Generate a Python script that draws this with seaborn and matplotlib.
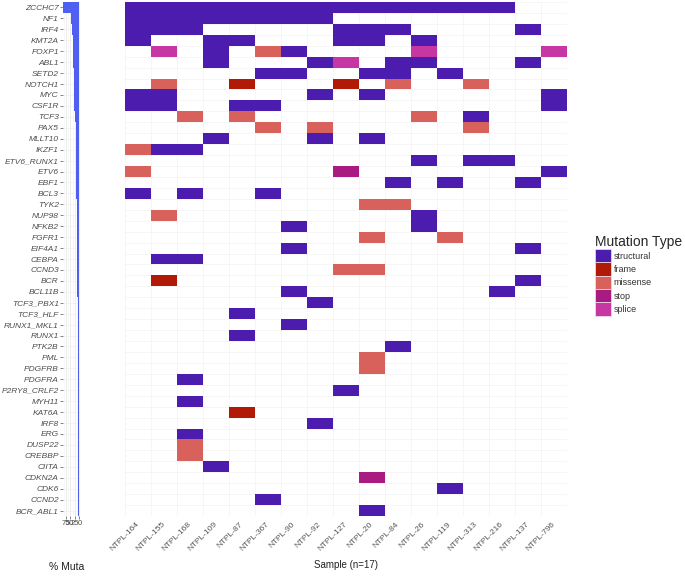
import numpy as np
import pandas as pd
import matplotlib
matplotlib.use("Agg")
import matplotlib.pyplot as plt
from matplotlib.colors import ListedColormap
from matplotlib.patches import Patch
import seaborn as sns

samples = ["NTPL-164", "NTPL-155", "NTPL-168", "NTPL-109", "NTPL-87", "NTPL-367",
           "NTPL-90", "NTPL-92", "NTPL-127", "NTPL-20", "NTPL-84", "NTPL-26",
           "NTPL-119", "NTPL-313", "NTPL-216", "NTPL-137", "NTPL-796"]

genes = ["ZCCHC7", "NF1", "IRF4", "KMT2A", "FOXP1", "ABL1", "SETD2", "NOTCH1",
         "MYC", "CSF1R", "TCF3", "PAX5", "MLLT10", "IKZF1", "ETV6_RUNX1", "ETV6",
         "EBF1", "BCL3", "TYK2", "NUP98", "NFKB2", "FGFR1", "EIF4A1", "CEBPA",
         "CCND3", "BCR", "BCL11B", "TCF3_PBX1", "TCF3_HLF", "RUNX1_MKL1", "RUNX1",
         "PTK2B", "PML", "PDGFRB", "PDGFRA", "P2RY8_CRLF2", "MYH11", "KAT6A",
         "IRF8", "ERG", "DUSP22", "CREBBP", "CIITA", "CDKN2A", "CDK6", "CCND2",
         "BCR_ABL1"]

mut_types = ["structural", "frame", "missense", "stop", "splice"]
mut_colors = ["#4b1cae", "#b01a06", "#d8615b", "#a91b80", "#c737a4"]

# sample numbers (NTPL-xxx) carrying each call
structural = {
    "ZCCHC7": [164, 155, 168, 109, 87, 367, 90, 92, 127, 20, 84, 26, 119, 313, 216],
    "NF1": [164, 155, 168, 109, 87, 367, 90, 92],
    "IRF4": [164, 155, 168, 127, 20, 84, 137],
    "KMT2A": [164, 109, 87, 127, 20, 26],
    "FOXP1": [109, 90],
    "ABL1": [109, 92, 84, 26, 137],
    "SETD2": [367, 90, 20, 84, 119],
    "MYC": [164, 155, 92, 20, 796],
    "CSF1R": [164, 155, 87, 367, 796],
    "TCF3": [313],
    "MLLT10": [109, 92, 20],
    "IKZF1": [155, 168],
    "ETV6_RUNX1": [26, 313, 216],
    "ETV6": [796],
    "EBF1": [84, 119, 137],
    "BCL3": [164, 168, 367],
    "NUP98": [26],
    "NFKB2": [90, 26],
    "EIF4A1": [90, 137],
    "CEBPA": [155, 168],
    "BCR": [137],
    "BCL11B": [90, 216],
    "TCF3_PBX1": [92],
    "TCF3_HLF": [87],
    "RUNX1_MKL1": [90],
    "RUNX1": [87],
    "PTK2B": [84],
    "PDGFRA": [168],
    "P2RY8_CRLF2": [127],
    "MYH11": [168],
    "IRF8": [92],
    "ERG": [168],
    "CIITA": [109],
    "CDK6": [119],
    "CCND2": [367],
    "BCR_ABL1": [20],
}
frame = {"NOTCH1": [87, 127], "BCR": [155], "KAT6A": [87]}
missense = {
    "FOXP1": [367], "NOTCH1": [155, 84, 313], "TCF3": [168, 87, 26],
    "PAX5": [367, 92, 313], "IKZF1": [164], "ETV6": [164], "TYK2": [20, 84],
    "NUP98": [155], "FGFR1": [20, 119], "CCND3": [127, 20], "PML": [20],
    "PDGFRB": [20], "DUSP22": [168], "CREBBP": [168],
}
stop = {"ETV6": [127], "CDKN2A": [20]}
splice = {"FOXP1": [155, 26, 796], "ABL1": [127]}

# ── long table -> matrix ──
rows = []
for t, calls in zip(mut_types, [structural, frame, missense, stop, splice]):
    for g, ids in calls.items():
        for s in ids:
            rows.append((g, f"NTPL-{s}", t))
df = pd.DataFrame(rows, columns=["gene", "sample", "type"])
df["code"] = df["type"].map({t: i for i, t in enumerate(mut_types)})

mat = (df.pivot(index="gene", columns="sample", values="code")
         .reindex(index=genes, columns=samples))

pct = (df.groupby("gene")["sample"].nunique().reindex(genes)
       / len(samples) * 100)
bars = pd.DataFrame({"gene": genes, "pct": pct.values})

# ── plot ──
sns.set_style("white")
plt.rcParams["font.family"] = ["Liberation Sans", "DejaVu Sans"]

fig = plt.figure(figsize=(6.85, 5.77), dpi=100)
ax_bar = fig.add_axes([63 / 685, 1 - 516 / 577, 17 / 685, 514 / 577])
ax_hm = fig.add_axes([125 / 685, 1 - 516 / 577, 442 / 685, 514 / 577])

# percent mutated bars
for v in [12.5, 37.5, 62.5, 87.5]:
    ax_bar.axvline(v, color="#f2f2f2", lw=0.4, zorder=0)
for v in [0, 25, 50, 75]:
    ax_bar.axvline(v, color="#e6e6e6", lw=0.5, zorder=0)
for i in range(len(genes)):
    ax_bar.axhline(i, color="#ececec", lw=0.4, zorder=0)
sns.barplot(data=bars, x="pct", y="gene", orient="h", color="#4f5ff0",
            saturation=1, width=1, linewidth=0, ax=ax_bar, zorder=2)
ax_bar.set_xlim(91, -3)
ax_bar.set_ylim(len(genes) - 0.5, -0.5)
ax_bar.set_xticks([75, 50, 25, 0])
ax_bar.set_xticklabels(["75", "50", "25", "0"])
ax_bar.tick_params(axis="x", labelsize=5.5, labelcolor="#4d4d4d", length=2,
                   width=0.5, color="#555555", pad=1, bottom=True)
ax_bar.tick_params(axis="y", labelsize=6, labelcolor="#4d4d4d", length=2,
                   width=0.5, color="#555555", pad=1, left=True)
for lbl in ax_bar.get_yticklabels():
    lbl.set_style("italic")
ax_bar.set_xlabel("")
ax_bar.set_ylabel("")
for sp in ax_bar.spines.values():
    sp.set_visible(False)

# mutation tiles
for i in range(len(genes) + 1):
    ax_hm.axhline(i, color="#f3f3f3", lw=0.5, zorder=0)
for j in range(len(samples) + 1):
    ax_hm.axvline(j, color="#f3f3f3", lw=0.5, zorder=0)
sns.heatmap(mat, cmap=ListedColormap(mut_colors), vmin=-0.5, vmax=4.5,
            cbar=False, xticklabels=True, yticklabels=False, ax=ax_hm)
ax_hm.set_xlabel("")
ax_hm.set_ylabel("")
ax_hm.tick_params(axis="x", length=0, pad=5, labelsize=6, labelcolor="#555555")
for lbl in ax_hm.get_xticklabels():
    lbl.set_rotation(45)
    lbl.set_ha("right")
    lbl.set_va("center")
    lbl.set_rotation_mode("anchor")

fig.text(67 / 685, 1 - 567 / 577, "% Muta", fontsize=7.5, ha="center",
         va="center", color="#222222")
fig.text(346 / 685, 1 - 565 / 577, "Sample (n=17)", fontsize=7, ha="center",
         va="center", color="#222222")

handles = [Patch(facecolor=c, edgecolor="#ece6f2", linewidth=0.5) for c in mut_colors]
fig.legend(handles, mut_types, loc="upper left",
           bbox_to_anchor=(595 / 685, 1 - 235 / 577), frameon=False,
           title="Mutation Type", title_fontsize=10, fontsize=6.5,
           alignment="left", borderaxespad=0, borderpad=0,
           handlelength=1.75, handleheight=1.9, labelspacing=0,
           handletextpad=0.3, labelcolor="#333333")

plt.savefig("out.png", dpi=100)
plt.close()
